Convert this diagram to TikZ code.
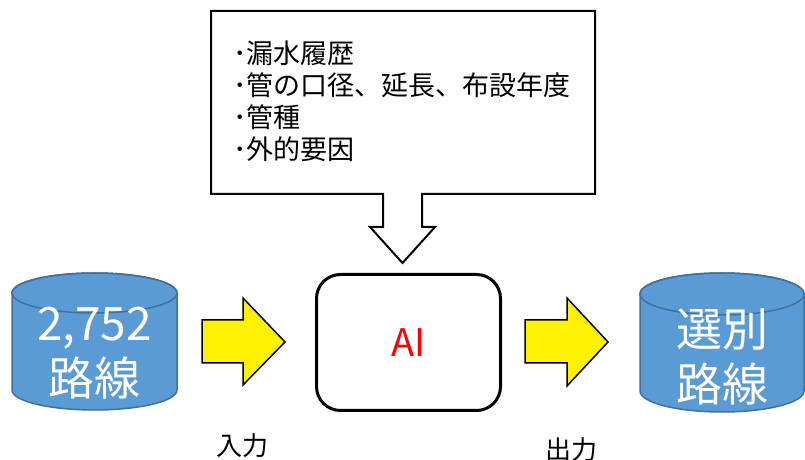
\documentclass[tikz,border=0pt]{standalone}
\usepackage{fontspec}
\setmainfont{Noto Sans CJK JP}
\definecolor{dbblue}{HTML}{5B9BD5}
\definecolor{dbedge}{HTML}{41719C}
\begin{document}
\begin{tikzpicture}[x=1pt,y=1pt,
  dbbody/.style={fill=dbblue, draw=dbedge, line width=1.5pt},
  dbtext/.style={text=white, font=\fontsize{46}{55}\selectfont, align=center, inner sep=0pt},
  blockarrow/.style={fill=yellow, draw=black, line width=1.5pt, line join=miter},
  infotext/.style={anchor=base west, inner sep=0pt, font=\fontsize{27}{32}\selectfont},
  lbltext/.style={inner sep=0pt, font=\fontsize{26}{30}\selectfont}]
\useasboundingbox (0,0) rectangle (805,460);
\fill[white] (0,0) rectangle (805,460);

% callout box with downward arrow
\draw[line width=2pt, line join=miter, fill=white]
  (211,449) -- (595,449) -- (595,266) -- (422,266) -- (422,233) -- (435,233)
  -- (402.5,197) -- (370,233) -- (383,233) -- (383,266) -- (211,266) -- cycle;
\node[infotext] (i1) at (233,396) {･漏水履歴};
\node[infotext] (i2) at (233,364) {･管の口径、延長、布設年度};
\node[infotext] (i3) at (233,332) {･管種};
\node[infotext] (i4) at (233,300) {･外的要因};

% left database
\path[dbbody] (12,167) -- (12,70) arc[start angle=180, end angle=360, x radius=82.5, y radius=20]
  -- (177,167) arc[start angle=0, end angle=180, x radius=82.5, y radius=20] -- cycle;
\draw[dbedge, line width=1.5pt] (94.5,167) ellipse [x radius=82.5, y radius=20];
\node[dbtext] (src) at (94.5,106.5) {2,752\\路線};

% right database
\path[dbbody] (640,166) -- (640,69) arc[start angle=180, end angle=360, x radius=82, y radius=21]
  -- (804,166) arc[start angle=0, end angle=180, x radius=82, y radius=21] -- cycle;
\draw[dbedge, line width=1.5pt] (722,166) ellipse [x radius=82, y radius=21];
\node[dbtext] (dst) at (722,103.5) {選別\\路線};

% AI box
\node[draw, line width=3pt, rounded corners=24pt, minimum width=184pt, minimum height=136pt,
  text=red, font=\fontsize{38}{40}\selectfont] (ai) at (408.5,117.5) {AI};

% yellow block arrows
\path[blockarrow] (202,140) -- (243,140) -- (243,162) -- (285,118) -- (243,75) -- (243,97) -- (202,97) -- cycle;
\path[blockarrow] (525,140) -- (567,140) -- (567,162) -- (608,118) -- (567,74) -- (567,97) -- (525,97) -- cycle;

% labels
\node[lbltext] (in) at (242.5,14) {入力};
\node[lbltext] (out) at (571,10) {出力};
\end{tikzpicture}
\end{document}
